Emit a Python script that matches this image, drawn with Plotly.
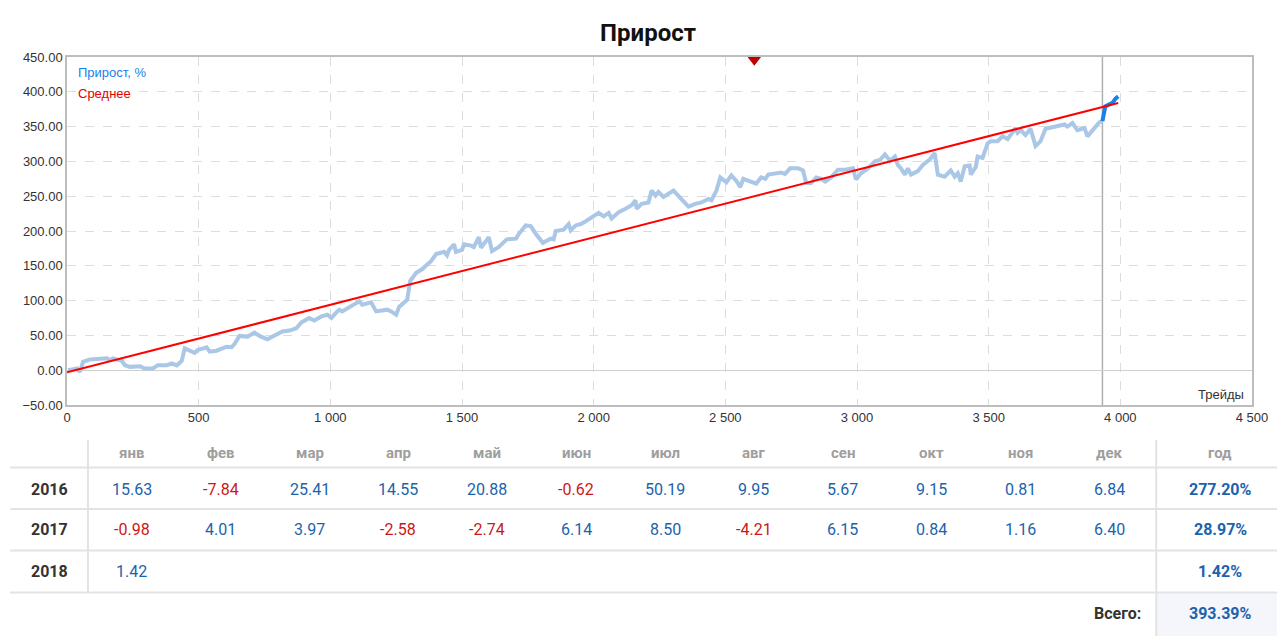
import plotly.graph_objects as go

# ---------------- data ----------------
trades = [4, 38, 49, 61, 87, 125, 152, 163, 174, 208, 220, 239, 277, 295, 326, 345, 379, 398, 417, 436,
          447, 485, 496, 530, 542, 568, 606, 625, 636, 655, 686, 712, 731, 761, 795, 818, 845, 871, 890, 920,
          939, 966, 989, 1004, 1023, 1034, 1045, 1072, 1110, 1121, 1136, 1155, 1174, 1197, 1216, 1231, 1250,
          1261, 1292, 1303, 1326, 1348, 1383, 1402, 1432, 1443, 1451, 1470, 1477, 1500, 1508, 1534, 1545,
          1564, 1572, 1602, 1614, 1640, 1670, 1705, 1716, 1742, 1761, 1780, 1807, 1837, 1848, 1856, 1886,
          1905, 1913, 1932, 1951, 1970, 1992, 2019, 2038, 2057, 2068, 2095, 2121, 2144, 2159, 2163, 2182,
          2208, 2220, 2235, 2246, 2265, 2303, 2333, 2360, 2386, 2409, 2436, 2447, 2466, 2481, 2504, 2523,
          2542, 2557, 2568, 2599, 2617, 2636, 2652, 2663, 2693, 2712, 2727, 2746, 2777, 2795, 2807, 2826,
          2845, 2864, 2879, 2902, 2928, 2955, 2985, 2996, 3015, 3042, 3068, 3087, 3106, 3125, 3144, 3155,
          3167, 3182, 3193, 3205, 3231, 3250, 3277, 3295, 3307, 3333, 3356, 3371, 3383, 3394, 3409, 3428,
          3432, 3451, 3458, 3477, 3496, 3508, 3534, 3553, 3572, 3583, 3602, 3610, 3621, 3640, 3659, 3678,
          3697, 3716, 3750, 3788, 3799, 3818, 3837, 3864, 3875, 3902, 3920, 3932]
growth = [0, 2.4, -2.4, 12, 15.5, 17, 17, 14.5, 17, 13.5, 7.2, 4.8, 5.8, 2.4, 2.4, 7.2, 7.2, 9.7, 6.8, 13.5,
          31.4, 25, 29, 32.9, 26.6, 28, 33.8, 33, 37.7, 49.3, 48.3, 54, 49.3, 44.4, 50.7, 55.6, 57, 60.4, 68.6, 74.9,
          71.5, 77.3, 79.7, 75, 83, 87, 84.5, 90.8, 99, 94, 95.7, 97.6, 84.5, 86, 87, 84.5, 79.7,
          90.8, 101.4, 128, 140, 145, 157, 167, 170, 165, 173, 181, 170, 173, 181, 179, 177,
          191, 176, 191, 171, 177, 188, 189, 196, 208, 207, 196, 183, 189, 188, 200, 202,
          210, 201, 208, 210, 214, 220, 226, 221, 226, 218, 227, 232, 237, 244, 232, 239,
          241, 258, 251, 256, 249, 258, 246, 235, 239, 241, 246, 244, 258, 277, 270, 280,
          272, 263, 275, 270, 268, 277, 275, 281, 282, 284, 282, 290, 290, 287, 269, 269,
          277, 275, 271, 277, 288, 288, 290, 274, 283, 290, 300, 302, 310, 301, 307, 295,
          290, 281, 290, 281, 286, 295, 303, 312, 281, 278, 287, 278, 283, 271, 293, 294,
          281, 292, 307, 305, 326, 329, 329, 336, 332, 338, 348, 341, 345, 338, 347, 322,
          329, 347, 350, 353, 350, 355, 345, 348, 336, 347, 356, 358]

current_trades = [3932, 3943, 3958, 3970, 3981, 3992]
current_growth = [358, 379, 382, 384, 390, 393.4]

avg_trades = [0, 3992]
avg_values = [-3, 384]

divider_trade = 3932
flag_trades = [2610]
flag_values = [446]

x_ticks = [0, 500, 1000, 1500, 2000, 2500, 3000, 3500, 4000, 4500]
x_tick_labels = ["0", "500", "1 000", "1 500", "2 000", "2 500", "3 000", "3 500", "4 000", "4 500"]
y_ticks = [-50, 0, 50, 100, 150, 200, 250, 300, 350, 400, 450]

months = ["янв", "фев", "мар", "апр", "май", "июн", "июл", "авг", "сен", "окт", "ноя", "дек"]
years = ["2016", "2017", "2018"]
monthly_2016 = [15.63, -7.84, 25.41, 14.55, 20.88, -0.62, 50.19, 9.95, 5.67, 9.15, 0.81, 6.84]
monthly_2017 = [-0.98, 4.01, 3.97, -2.58, -2.74, 6.14, 8.50, -4.21, 6.15, 0.84, 1.16, 6.40]
monthly_2018 = [1.42]
year_totals = [277.20, 28.97, 1.42]
grand_total = 393.39

# ---------------- layout helpers ----------------
W, H = 1280, 638
L, R, T, B = 67, 1255, 57, 405


def xp(px):
    return (px - L) / (R - L)


def yp(py):
    return (B - py) / (B - T)


BLUE_TXT = "#1b63ad"
RED_TXT = "#cc1717"
GRID = "#dcdcdc"
AXIS = "#bdbdbd"

fig = go.Figure()

fig.add_trace(go.Scatter(x=trades, y=growth, mode="lines",
                         line=dict(color="#aac7e7", width=4), hoverinfo="skip"))
fig.add_trace(go.Scatter(x=current_trades, y=current_growth, mode="lines",
                         line=dict(color="#1a80ea", width=4), hoverinfo="skip"))
fig.add_trace(go.Scatter(x=avg_trades, y=avg_values, mode="lines",
                         line=dict(color="#ff0000", width=2), hoverinfo="skip"))
fig.add_trace(go.Scatter(x=flag_trades, y=flag_values, mode="markers",
                         marker=dict(symbol="triangle-down", size=12, color="#c00000"),
                         cliponaxis=False, hoverinfo="skip"))

shapes = []
# divider line
shapes.append(dict(type="line", xref="x", yref="y", x0=divider_trade, x1=divider_trade,
                   y0=-50, y1=450, line=dict(color="#b0b0b0", width=1.5), layer="below"))

# table lines
for py in [467.5, 509, 550.5, 592.5]:
    shapes.append(dict(type="line", xref="paper", yref="paper", x0=xp(10), x1=xp(1280),
                       y0=yp(py), y1=yp(py), line=dict(color="#e3e3e3", width=2)))
shapes.append(dict(type="rect", xref="paper", yref="paper", x0=xp(1160), x1=xp(1280),
                   y0=yp(593.5), y1=yp(636), fillcolor="#f4f6fb", line=dict(width=0), layer="below"))
shapes.append(dict(type="line", xref="paper", yref="paper", x0=xp(88), x1=xp(88),
                   y0=yp(440), y1=yp(592), line=dict(color="#e3e3e3", width=2)))
shapes.append(dict(type="line", xref="paper", yref="paper", x0=xp(1159), x1=xp(1159),
                   y0=yp(440), y1=yp(636), line=dict(color="#e3e3e3", width=2)))

ann = []
# legend
ann.append(dict(text="Прирост, %", x=xp(76), y=yp(72), xref="paper", yref="paper", xanchor="left",
                yanchor="middle", showarrow=False, font=dict(family="Arial", size=13, color="#1a80ea")))
ann.append(dict(text="Среднее", x=xp(76), y=yp(93), xref="paper", yref="paper", xanchor="left",
                yanchor="middle", showarrow=False, font=dict(family="Arial", size=13, color="#e80000")))
ann.append(dict(text="Трейды", x=xp(1249), y=yp(394), xref="paper", yref="paper", xanchor="right",
                yanchor="middle", showarrow=False, font=dict(family="Arial", size=13, color="#333333")))

# table text
col_x = [132 + i * 89.1 for i in range(12)]
year_x, total_x = 49, 1223
header_y, row_y, total_row_y = 453, [489, 529.5, 571], 613


def add_text(txt, px, py, size=16, color="#333333", bold=False, anchor="center"):
    ann.append(dict(text=f"<b>{txt}</b>" if bold else txt, x=xp(px), y=yp(py), xref="paper",
                    yref="paper", xanchor=anchor, yanchor="middle", showarrow=False,
                    font=dict(family="Roboto", size=size, color=color)))


for m, cx in zip(months, col_x):
    add_text(m, cx, header_y, size=15, color="#9e9e9e", bold=True)
add_text("год", total_x, header_y, size=15, color="#9e9e9e", bold=True)

for yr, vals, tot, ry in zip(years, [monthly_2016, monthly_2017, monthly_2018], year_totals, row_y):
    add_text(yr, year_x, ry, size=16, color="#333333", bold=True)
    for v, cx in zip(vals, col_x):
        add_text(f"{v:.2f}", cx, ry, size=16, color=RED_TXT if v < 0 else BLUE_TXT)
    add_text(f"{tot:.2f}%", total_x, ry, size=16, color=BLUE_TXT, bold=True)

add_text("Всего:", 1146, total_row_y, size=16, color="#333333", bold=True, anchor="right")
add_text(f"{grand_total:.2f}%", total_x, total_row_y, size=16, color=BLUE_TXT, bold=True)

fig.update_layout(
    width=W, height=H,
    margin=dict(l=L, r=W - R, t=T, b=H - B, pad=0),
    paper_bgcolor="white", plot_bgcolor="white",
    showlegend=False,
    title=dict(text="<b>Прирост</b>", x=648 / W, y=1 - 33 / H, xanchor="center", yanchor="middle",
               font=dict(family="Roboto", size=24, color="#111111")),
    shapes=shapes, annotations=ann,
    xaxis=dict(range=[0, 4500], tickvals=x_ticks, ticktext=x_tick_labels, showgrid=True,
               gridcolor=GRID, griddash="dash", gridwidth=1, showline=True, mirror=True,
               linecolor=AXIS, linewidth=1.5, zeroline=False, ticks="", ticklen=0,
               tickfont=dict(family="Arial", size=13, color="#333333")),
    yaxis=dict(range=[-50, 450], tickvals=y_ticks, tickformat=".2f", showgrid=True,
               gridcolor=GRID, griddash="dash", gridwidth=1, showline=True, mirror=True,
               linecolor=AXIS, linewidth=1.5, zeroline=True, zerolinecolor="#d0d0d0",
               zerolinewidth=1, ticks="", ticklen=0,
               tickfont=dict(family="Arial", size=13, color="#333333")),
)

fig.write_html("out.html")
